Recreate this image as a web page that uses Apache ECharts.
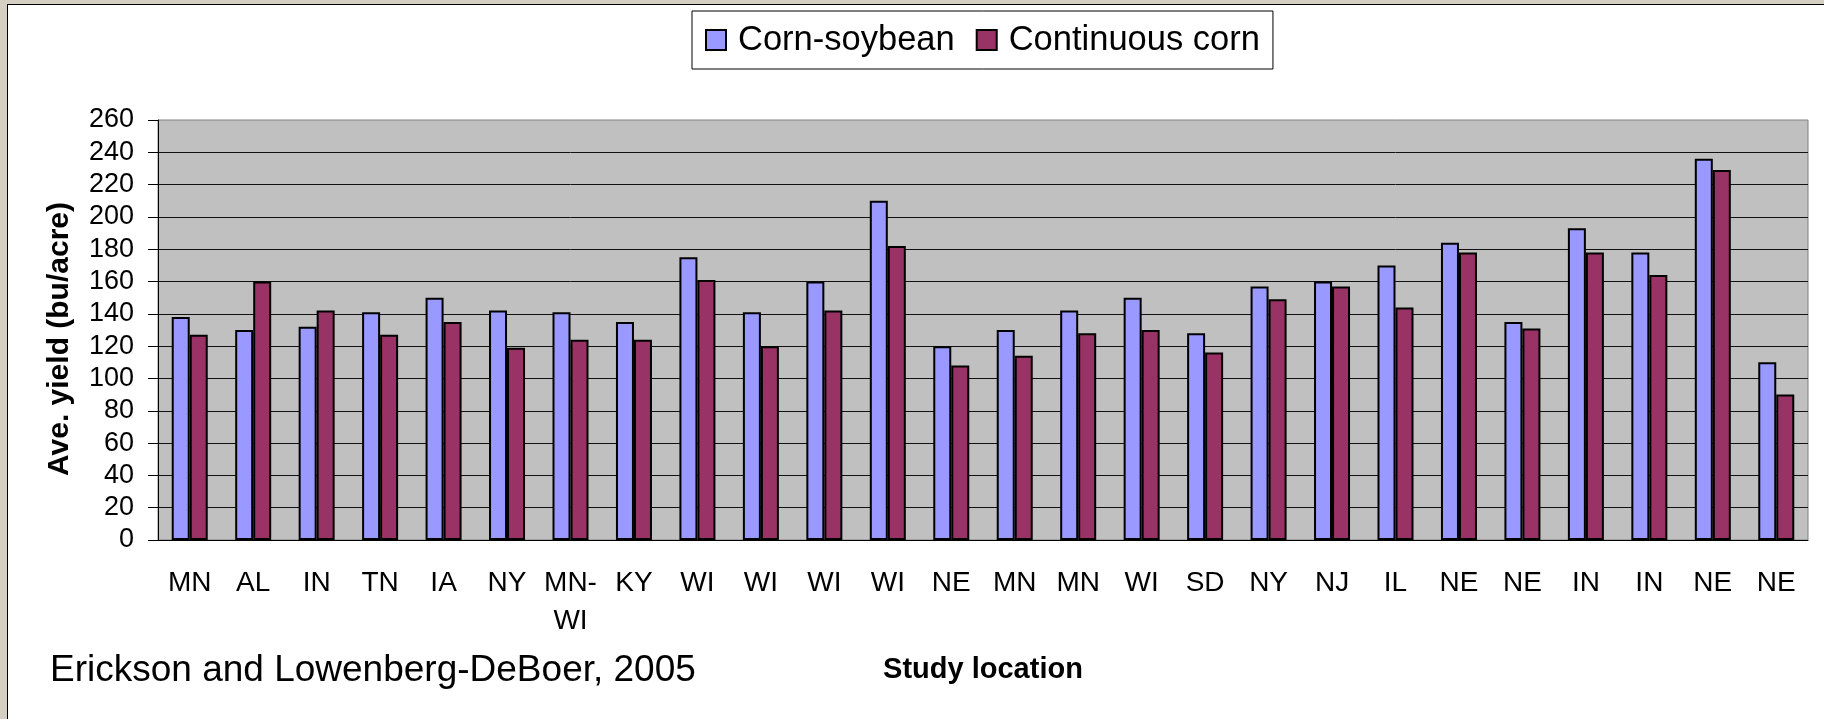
<!DOCTYPE html>
<html>
<head>
<meta charset="utf-8">
<script src="https://cdn.jsdelivr.net/npm/echarts@6/dist/echarts.min.js"></script>
<style>
  html, body { margin: 0; padding: 0; }
  body { width: 1824px; height: 719px; background: #d5cec3; overflow: hidden; position: relative; }
  /* white slide panel behind the chart */
  .panel { position: absolute; left: 7px; top: 4px; width: 1830px; height: 730px; background: #fff; border: 1.5px solid #000; }
  .main { position: absolute; left: 0; top: 0; width: 1824px; height: 719px; }
</style>
</head>
<body>
<div class="panel"></div>
<div id="main" class="main"></div>
<script>
// study locations along the x axis
const locations = ['MN', 'AL', 'IN', 'TN', 'IA', 'NY', 'MN-\nWI', 'KY', 'WI', 'WI', 'WI', 'WI', 'NE',
  'MN', 'MN', 'WI', 'SD', 'NY', 'NJ', 'IL', 'NE', 'NE', 'IN', 'IN', 'NE', 'NE']
// average yield, bu/acre
const cornSoybean = [138, 130, 132, 141, 150, 142, 141, 135, 175, 141, 160, 210, 120,
  130, 142, 150, 128, 157, 160, 170, 184, 135, 193, 178, 236, 110]
const continuousCorn = [127, 160, 142, 127, 135, 119, 124, 124, 161, 120, 142, 182, 108,
  114, 128, 130, 116, 149, 157, 144, 178, 131, 178, 164, 229, 90]
const seriesNames = ['Corn-soybean', 'Continuous corn']
const yTicks = { min: 0, max: 260, step: 20 }

const font = "'Liberation Sans', Arial, sans-serif"

const chart = echarts.init(document.getElementById('main'))
const option = {
  backgroundColor: 'transparent',
  textStyle: { fontFamily: font, color: '#000' },
  animation: false,
  legend: {
    data: seriesNames,
    left: 692,
    top: 11,
    padding: [11, 13, 11, 13],
    borderColor: '#000',
    borderWidth: 1,
    backgroundColor: '#fff',
    itemWidth: 20,
    itemHeight: 20,
    itemGap: 21,
    icon: 'rect',
    textStyle: { fontFamily: font, fontSize: 34.5, color: '#000', lineHeight: 36, padding: [0, 0, 0, 7] }
  },
  grid: {
    left: 158,
    top: 120,
    right: 16,
    bottom: 179,
    show: true,
    backgroundColor: '#c0c0c0',
    borderColor: '#808080',
    borderWidth: 1
  },
  xAxis: {
    type: 'category',
    data: locations,
    name: 'Study location',
    nameLocation: 'middle',
    nameGap: 115,
    nameTextStyle: { fontFamily: font, fontSize: 29, fontWeight: 'bold', color: '#000' },
    axisLine: { lineStyle: { color: '#000', width: 1 } },
    axisTick: { length: 8, lineStyle: { color: '#000' } },
    axisLabel: { interval: 0, fontFamily: font, fontSize: 28, lineHeight: 38, margin: 24, color: '#000' }
  },
  yAxis: {
    type: 'value',
    min: yTicks.min,
    max: yTicks.max,
    interval: yTicks.step,
    name: 'Ave. yield (bu/acre)',
    nameLocation: 'middle',
    nameGap: 83,
    nameTextStyle: { fontFamily: font, fontSize: 30, fontWeight: 'bold', color: '#000', padding: [0, 18, 0, 0] },
    axisLine: { show: true, lineStyle: { color: '#000', width: 1 } },
    axisTick: { show: true, length: 10, lineStyle: { color: '#000' } },
    axisLabel: { fontFamily: font, fontSize: 27, margin: 24, color: '#000' },
    splitLine: { show: true, showMaxLine: false, lineStyle: { color: '#111', width: 1 } }
  },
  series: [{
    name: seriesNames[0],
    type: 'bar',
    barWidth: 18,
    barGap: '0%',
    itemStyle: { color: '#9999ff', borderColor: '#000', borderWidth: 2 },
    data: cornSoybean
  }, {
    name: seriesNames[1],
    type: 'bar',
    barWidth: 18,
    itemStyle: { color: '#993366', borderColor: '#000', borderWidth: 2 },
    data: continuousCorn
  }],
  graphic: [{
    type: 'text',
    left: 50,
    top: 652,
    style: { text: 'Erickson and Lowenberg-DeBoer, 2005', font: '37px ' + font, fill: '#000' }
  }]
}
chart.setOption(option)
window.onresize = chart.resize
</script>
</body>
</html>
